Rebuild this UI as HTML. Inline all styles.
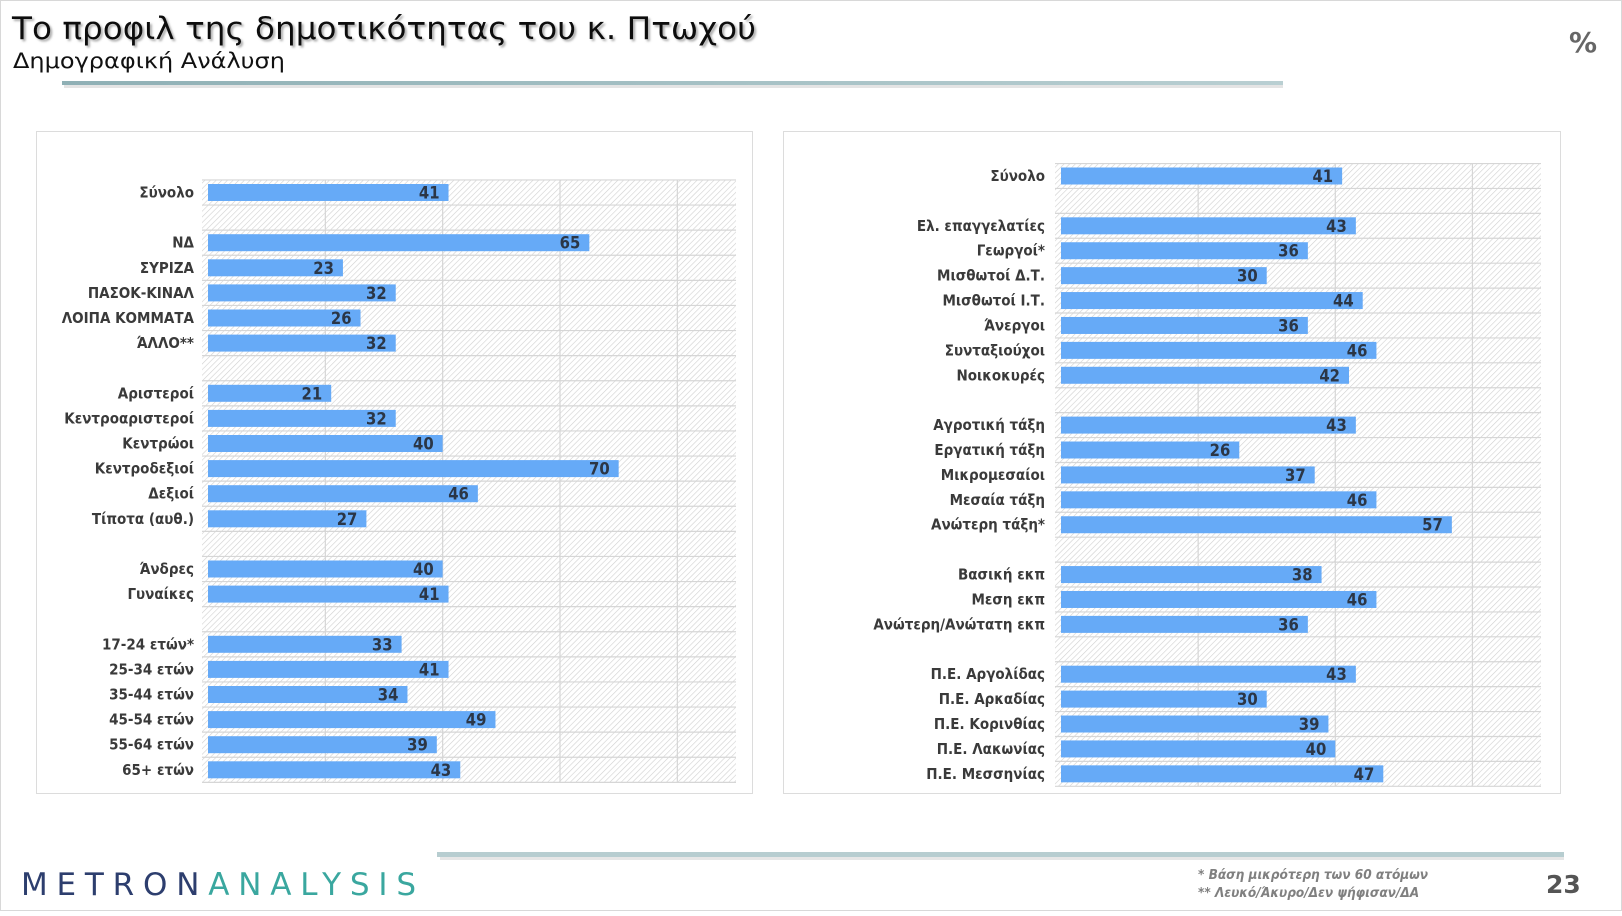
<!DOCTYPE html>
<html><head><meta charset="utf-8">
<style>
html,body{margin:0;padding:0;background:#fff;}
body{width:1622px;height:911px;overflow:hidden;font-family:"Liberation Sans","DejaVu Sans",sans-serif;}
svg text{font-family:"DejaVu Sans","Liberation Sans",sans-serif;}
svg text.cond{font-family:"DejaVu Sans Condensed","Liberation Sans",sans-serif;}
</style></head>
<body>
<svg id="root" width="1622" height="911" viewBox="0 0 1622 911" xmlns="http://www.w3.org/2000/svg">
<defs>
<pattern id="hatch" patternUnits="userSpaceOnUse" width="4" height="4" patternTransform="rotate(45)">
<rect width="4" height="4" fill="#ffffff"/>
<line x1="0" y1="0" x2="0" y2="4" stroke="#d0d0d0" stroke-width="1.2"/>
</pattern>
<linearGradient id="rule" x1="0" x2="1" y1="0" y2="0">
<stop offset="0" stop-color="#8fb0b5"/><stop offset="1" stop-color="#b9cfd2"/>
</linearGradient>
<filter id="tsh" x="-5%" y="-20%" width="110%" height="150%"><feDropShadow dx="2" dy="2" stdDeviation="1" flood-color="#888" flood-opacity="0.7"/></filter>
</defs>
<rect x="0.5" y="0.5" width="1621" height="910" fill="#fff" stroke="#d8d8d8"/>
<text x="12" y="39" font-size="31" fill="#111" filter="url(#tsh)" textLength="744" lengthAdjust="spacingAndGlyphs">Το προφιλ της δημοτικότητας του κ. Πτωχού</text>
<text x="13" y="68" font-size="21" fill="#111" textLength="272" lengthAdjust="spacingAndGlyphs">Δημογραφική Ανάλυση</text>
<rect x="62" y="81" width="1221" height="4" fill="url(#rule)"/>
<rect x="64" y="85" width="1219" height="3" fill="#e4e4e4"/>
<text x="1569" y="52" font-size="28" font-weight="bold" fill="#666">%</text>
<rect x="36.5" y="131.5" width="716" height="662" fill="#fff" stroke="#dcdcdc"/>
<rect x="783.5" y="131.5" width="777" height="662" fill="#fff" stroke="#dcdcdc"/>
<g id="leftChart"></g>
<g id="rightChart"></g>
<rect x="437" y="852" width="1127" height="5" fill="#b7cdd0"/>
<rect x="440" y="857" width="1124" height="3" fill="#e6e6e6"/>
<text x="21" y="895" font-size="31" textLength="395" lengthAdjust="spacing"><tspan fill="#2d3e6e">METRON</tspan><tspan fill="#3aa79f">ANALYSIS</tspan></text>
<text class="cond" x="1198" y="879" font-size="13.5" font-style="italic" font-weight="bold" fill="#808080">*  Βάση μικρότερη των 60 ατόμων</text>
<text class="cond" x="1198" y="897" font-size="13.5" font-style="italic" font-weight="bold" fill="#808080">** Λευκό/Άκυρο/Δεν ψήφισαν/ΔΑ</text>
<text x="1546" y="893" font-size="25" font-weight="bold" fill="#555">23</text>
</svg>
<script>
const NS='http://www.w3.org/2000/svg';
const leftCategories=['Σύνολο','','ΝΔ','ΣΥΡΙΖΑ','ΠΑΣΟΚ-ΚΙΝΑΛ','ΛΟΙΠΑ ΚΟΜΜΑΤΑ','ΆΛΛΟ**','','Αριστεροί','Κεντροαριστεροί','Κεντρώοι','Κεντροδεξιοί','Δεξιοί','Τίποτα (αυθ.)','','Άνδρες','Γυναίκες','','17-24 ετών*','25-34 ετών','35-44 ετών','45-54 ετών','55-64 ετών','65+ ετών'];
const leftValues=[41,null,65,23,32,26,32,null,21,32,40,70,46,27,null,40,41,null,33,41,34,49,39,43];
const leftTicks=[0,20,40,60,80];
const leftMax=90;
const rightCategories=['Σύνολο','','Ελ. επαγγελατίες','Γεωργοί*','Μισθωτοί Δ.Τ.','Μισθωτοί Ι.Τ.','Άνεργοι','Συνταξιούχοι','Νοικοκυρές','','Αγροτική τάξη','Εργατική τάξη','Μικρομεσαίοι','Μεσαία τάξη','Ανώτερη τάξη*','','Βασική εκπ','Μεση εκπ','Ανώτερη/Ανώτατη εκπ','','Π.Ε. Αργολίδας','Π.Ε. Αρκαδίας','Π.Ε. Κορινθίας','Π.Ε. Λακωνίας','Π.Ε. Μεσσηνίας'];
const rightValues=[41,null,43,36,30,44,36,46,42,null,43,26,37,46,57,null,38,46,36,null,43,30,39,40,47];
const rightTicks=[0,20,40,60];
const rightMax=70;

function mk(tag,attrs,parent){const e=document.createElementNS(NS,tag);for(const k in attrs)e.setAttribute(k,attrs[k]);parent.appendChild(e);return e;}

function drawChart(g,cats,vals,ticks,maxV,cfg){
  const x=v=>cfg.x0+(cfg.x1-cfg.x0)*v/maxV;
  const yc=i=>cfg.y0+i*cfg.pitch;
  const top=yc(0)-cfg.pitch/2, bot=yc(cats.length-1)+cfg.pitch/2;
  const bg=mk('rect',{x:cfg.x0-6,y:top,width:cfg.x1-cfg.x0+6,height:bot-top,fill:'url(#hatch)'},g);
  
  
  for(let i=0;i<=cats.length;i++){
    const yy=top+i*cfg.pitch;
    const l=mk('line',{x1:cfg.x0-6,x2:cfg.x1,y1:yy,y2:yy,stroke:'#d6d6d6','stroke-width':1.2},g);
    
    
  }
  ticks.forEach(t=>{
    if(t===0)return;
    const l=mk('line',{x1:x(t),x2:x(t),y1:top,y2:bot,stroke:'#d6d6d6','stroke-width':1.2},g);
    
    
  });
  cats.forEach((c,i)=>{
    if(!c)return;
    const t=mk('text',{class:'cond',x:cfg.labelX,y:yc(i)+5,'text-anchor':'end','font-size':15,'font-weight':'bold',fill:'#3a3a3a'},g);
    t.textContent=c;
    
    
    const v=vals[i];
    if(v==null)return;
    const b=mk('rect',{x:x(0),y:yc(i)-8.5,width:x(v)-x(0),height:17,fill:'#66aaf7'},g);
    
    
    const vt=mk('text',{class:'cond',x:x(v)-9,y:yc(i)+6,'text-anchor':'end','font-size':16.5,'font-weight':'bold',fill:'#2b3646'},g);
    vt.textContent=v;
    
    
  });
}
drawChart(document.getElementById('leftChart'),leftCategories,leftValues,leftTicks,leftMax,{x0:208,x1:736,y0:192.5,pitch:25.1,labelX:194});
drawChart(document.getElementById('rightChart'),rightCategories,rightValues,rightTicks,rightMax,{x0:1061,x1:1541,y0:176,pitch:24.91,labelX:1045});
</script>
</body></html>
